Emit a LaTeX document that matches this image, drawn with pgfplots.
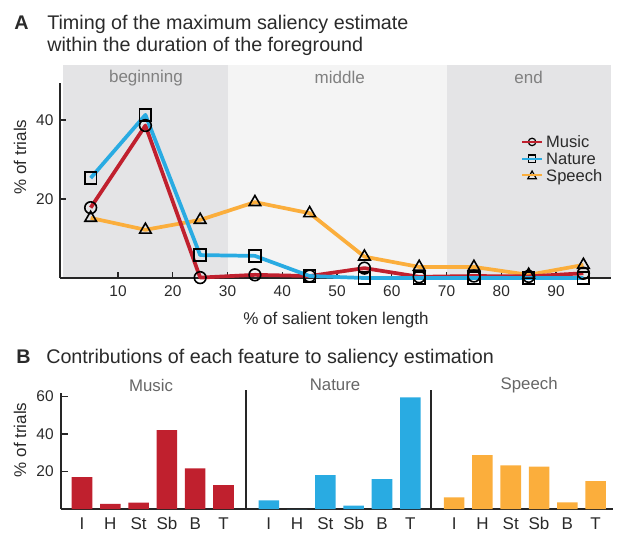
\documentclass[border=0pt]{standalone}
\usepackage{fontspec}
\setmainfont{Liberation Sans}
\usepackage{pgfplots}
\usepackage{pgfplotstable}
\pgfplotsset{compat=1.18}
\definecolor{mred}{HTML}{C0202E}
\definecolor{nblue}{HTML}{29ABE2}
\definecolor{sorange}{HTML}{FBAE3C}
\definecolor{shadeA}{HTML}{E4E4E6}
\definecolor{shadeB}{HTML}{F4F4F4}
\definecolor{txt}{HTML}{2A2A2A}

\pgfplotstableread{
x  music nature speech
5  17.8  25.3   15.2
15 38.6  41.3   12.2
25 0.1   5.8    14.7
35 0.8   5.6    19.2
45 0.5   0.5    16.4
55 2.5   0.0    5.4
65 0.3   0.0    2.8
75 0.5   0.0    2.8
85 0.4   0.0    0.8
95 1.2   0.0    3.3
}\timing

\pgfplotstableread{
k val
0 17.0
1 2.7
2 3.4
3 42.1
4 21.7
5 12.8
}\musicbars
\pgfplotstableread{
k val
6.6 4.6
7.6 0.0
8.6 18.1
9.6 1.8
10.6 16.0
11.6 59.6
}\naturebars
\pgfplotstableread{
k val
13.15 6.2
14.15 28.8
15.15 23.3
16.15 22.6
17.15 3.6
18.15 14.9
}\speechbars

\begin{document}
\begin{tikzpicture}
% titles
\node[anchor=base west, inner sep=0, text=txt, font=\fontsize{14.8}{16}\selectfont\bfseries] at (10.5pt,375pt) {A};
\node[anchor=base west, inner sep=0, text=txt, font=\fontsize{14.8}{16}\selectfont] at (35.25pt,375pt) {Timing of the maximum saliency estimate};
\node[anchor=base west, inner sep=0, text=txt, font=\fontsize{14.8}{16}\selectfont] at (35.25pt,358.5pt) {within the duration of the foreground};
\node[anchor=base west, inner sep=0, text=txt, font=\fontsize{14.8}{16}\selectfont\bfseries] at (12pt,125.25pt) {B};
\node[anchor=base west, inner sep=0, text=txt, font=\fontsize{14.8}{16}\selectfont] at (34.5pt,125.25pt) {Contributions of each feature to saliency estimation};

% ---------------- Panel A
\begin{axis}[
  at={(45pt,189pt)}, anchor=south west,
  x=4.10625pt, y=2.9625pt,
  xmin=-0.6, xmax=100, ymin=0, ymax=49.4,
  set layers, clip=false,
  axis x line=bottom, axis y line=left,
  axis line style={-, line width=1.5pt, black!85},
  tick align=inside, major tick length=4.5pt,
  tick style={black!85, line width=1pt},
  xtick={10,20,...,90}, ytick={20,40},
  /pgf/number format/assume math mode=true,
  xticklabel style={font=\fontsize{11.6}{12}\selectfont, text=txt, yshift=-2pt},
  yticklabel style={font=\fontsize{11.6}{12}\selectfont, text=txt, xshift=-1.4pt},
  xlabel={\% of salient token length},
  ylabel={\% of trials},
  every axis x label/.style={at={(axis description cs:0.501,-0.236)}, anchor=base, font=\fontsize{12.75}{14}\selectfont, text=txt},
  every axis y label/.style={at={(axis description cs:-0.0726,0.62)}, rotate=90, anchor=center, font=\fontsize{12.75}{14}\selectfont, text=txt},
  legend style={at={(axis description cs:0.837,0.74)}, anchor=north west, draw=none, fill=none, inner sep=0pt, outer sep=0pt,
    font=\fontsize{12.4}{13}\selectfont, text=txt, row sep=0pt, /tikz/column sep=2.3pt,
    nodes={inner sep=0pt, text height=10.7pt, text depth=1.8pt}},
  legend cell align=left,
]
\begin{pgfonlayer}{axis background}
\fill[shadeA] (axis cs:-0.1,0) rectangle (axis cs:30,53.9);
\fill[shadeB] (axis cs:30,0) rectangle (axis cs:70,53.9);
\fill[shadeA] (axis cs:70,0) rectangle (axis cs:100,53.9);
\end{pgfonlayer}
\node[text=black!50, font=\fontsize{12.75}{14}\selectfont] at (axis cs:15.1,50.7) {beginning};
\node[text=black!50, font=\fontsize{12.75}{14}\selectfont] at (axis cs:50.5,50.7) {middle};
\node[text=black!50, font=\fontsize{12.75}{14}\selectfont] at (axis cs:85,50.7) {end};

\addlegendimage{legend image code/.code={\draw[black, line width=0.9pt] (7.5pt,0pt) circle (2.8pt); \draw[mred, line width=1.6pt] (0pt,0pt) -- (15pt,0pt);}}
\addlegendentry{Music}
\addlegendimage{legend image code/.code={\draw[black, line width=0.9pt] (4.8pt,-2.7pt) rectangle (10.2pt,2.7pt); \draw[nblue, line width=1.6pt] (0pt,0pt) -- (15pt,0pt);}}
\addlegendentry{Nature}
\addlegendimage{legend image code/.code={\draw[black, line width=0.9pt, line join=miter] (7.5pt,3.2pt) -- (4.3pt,-2.6pt) -- (10.7pt,-2.6pt) -- cycle; \draw[sorange, line width=1.6pt] (0pt,0pt) -- (15pt,0pt);}}
\addlegendentry{Speech}

\addplot[forget plot, only marks, mark=o, mark size=4.4pt, mark options={solid, draw=black, fill=none, line width=1.2pt}] table[x=x, y=music] {\timing};
\addplot[forget plot, only marks, mark=square, mark size=4.4pt, mark options={solid, draw=black, fill=none, line width=1.2pt}] table[x=x, y=nature] {\timing};
\addplot[forget plot, only marks, mark=triangle, mark size=5pt, mark options={solid, draw=black, fill=none, line width=1.2pt}] table[x=x, y=speech] {\timing};
\addplot[forget plot, no marks, sorange, line width=2.8pt, line join=round] table[x=x, y=speech] {\timing};
\addplot[forget plot, no marks, mred, line width=2.8pt, line join=round] table[x=x, y=music] {\timing};
\addplot[forget plot, no marks, nblue, line width=2.8pt, line join=round] table[x=x, y=nature] {\timing};
\end{axis}

% ---------------- Panel B
\begin{axis}[
  at={(45.75pt,15.75pt)}, anchor=south west,
  x=21.225pt, y=1.40625pt,
  xmin=-0.742, xmax=18.76, ymin=0, ymax=62,
  clip=false,
  axis x line=bottom, axis y line=left,
  axis line style={-, line width=1.5pt, black!85},
  tick align=inside, major tick length=5pt,
  tick style={black!85, line width=1pt},
  x tick style={draw=none},
  ytick={20,40,60},
  xtick={0,1,2,3,4,5,6.6,7.6,8.6,9.6,10.6,11.6,13.15,14.15,15.15,16.15,17.15,18.15},
  xticklabels={I,H,St,Sb,B,T,I,H,St,Sb,B,T,I,H,St,Sb,B,T},
  /pgf/number format/assume math mode=true,
  xticklabel style={font=\fontsize{12.75}{14}\selectfont, text=txt, yshift=-2.5pt, text height=9.3pt, text depth=0pt},
  yticklabel style={font=\fontsize{11.6}{12}\selectfont, text=txt, xshift=-2pt},
  ylabel={\% of trials},
  every axis y label/.style={at={(axis description cs:-0.0743,0.594)}, rotate=90, anchor=center, font=\fontsize{12.75}{14}\selectfont, text=txt},
]
\addplot[ybar, bar shift=0pt, bar width=15.4pt, fill=mred, draw=none] table[x=k, y=val] {\musicbars};
\addplot[ybar, bar shift=0pt, bar width=15.4pt, fill=nblue, draw=none] table[x=k, y=val] {\naturebars};
\addplot[ybar, bar shift=0pt, bar width=15.4pt, fill=sorange, draw=none] table[x=k, y=val] {\speechbars};
\draw[black!85, line width=1.3pt] (axis cs:5.8,0) -- (axis cs:5.8,63.5);
\draw[black!85, line width=1.3pt] (axis cs:12.33,0) -- (axis cs:12.33,63.5);
\node[text=black!60, font=\fontsize{12.6}{14}\selectfont] at (axis cs:2.44,66.1) {Music};
\node[text=black!60, font=\fontsize{12.6}{14}\selectfont] at (axis cs:8.94,66.1) {Nature};
\node[text=black!60, font=\fontsize{12.6}{14}\selectfont] at (axis cs:15.8,66.1) {Speech};
\end{axis}
\path (0,0) rectangle (472.5pt,397.5pt);
\end{tikzpicture}
\end{document}
